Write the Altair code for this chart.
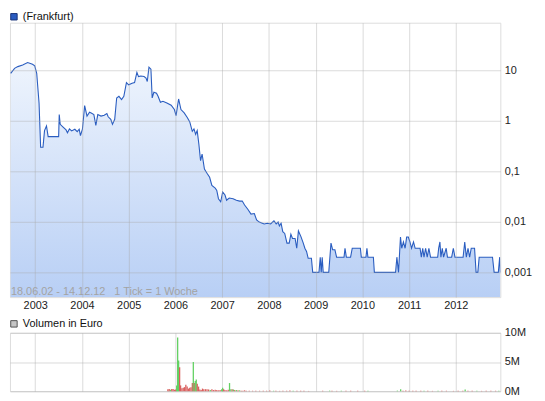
import altair as alt
import pandas as pd

# ---------------- data ----------------
price_year = [
    2002.475, 2002.558, 2002.628, 2002.732, 2002.837, 2002.942, 2002.99, 2003.032, 2003.082, 2003.116,
    2003.166, 2003.199, 2003.241, 2003.277, 2003.501, 2003.514, 2003.535, 2003.591, 2003.66, 2003.69,
    2003.732, 2003.779, 2003.848, 2003.899, 2003.941, 2003.968, 2004.01, 2004.058, 2004.108, 2004.163,
    2004.198, 2004.255, 2004.297, 2004.339, 2004.408, 2004.477, 2004.533, 2004.561, 2004.617, 2004.653,
    2004.701, 2004.743, 2004.791, 2004.848, 2004.896, 2004.952, 2005.0, 2005.072, 2005.126, 2005.176,
    2005.21, 2005.26, 2005.329, 2005.371, 2005.398, 2005.434, 2005.476, 2005.503, 2005.539, 2005.595,
    2005.629, 2005.679, 2005.733, 2005.817, 2005.909, 2005.978, 2006.014, 2006.068, 2006.119, 2006.188,
    2006.257, 2006.307, 2006.361, 2006.397, 2006.433, 2006.466, 2006.502, 2006.538, 2006.571, 2006.621,
    2006.676, 2006.732, 2006.78, 2006.852, 2006.885, 2006.921, 2006.969, 2007.011, 2007.061, 2007.095,
    2007.151, 2007.235, 2007.304, 2007.375, 2007.43, 2007.48, 2007.549, 2007.618, 2007.689, 2007.737,
    2007.794, 2007.899, 2007.968, 2008.037, 2008.108, 2008.156, 2008.198, 2008.225, 2008.261, 2008.297,
    2008.339, 2008.387, 2008.435, 2008.471, 2008.506, 2008.561, 2008.596, 2008.632, 2008.686, 2008.736,
    2008.77, 2008.806, 2008.841, 2008.91, 2008.938, 2009.072, 2009.099, 2009.12, 2009.141, 2009.162,
    2009.281, 2009.329, 2009.365, 2009.413, 2009.449, 2009.608, 2009.629, 2009.658, 2009.748, 2009.784,
    2009.958, 2009.978, 2010.077, 2010.098, 2010.119, 2010.236, 2010.257, 2010.711, 2010.739, 2010.774,
    2010.816, 2010.843, 2010.879, 2010.915, 2010.948, 2010.984, 2011.019, 2011.053, 2011.095, 2011.13,
    2011.235, 2011.262, 2011.292, 2011.319, 2011.354, 2011.388, 2011.424, 2011.459, 2011.612, 2011.633,
    2011.66, 2011.681, 2011.711, 2011.738, 2011.794, 2011.821, 2011.911, 2011.947, 2011.982, 2012.156,
    2012.191, 2012.225, 2012.261, 2012.296, 2012.33, 2012.401, 2012.434, 2012.471, 2012.5, 2012.785,
    2012.82, 2012.91, 2012.939, 2012.953,
]
price_value = [
    8.7, 10.9, 11.8, 12.7, 14.2, 13.1, 12.2, 8.7, 2.25, 0.30,
    0.30, 0.64, 0.79, 0.485, 0.485, 1.33, 0.85, 0.76, 0.66, 0.58,
    0.69, 0.63, 0.68, 0.61, 0.68, 0.51, 0.68, 2.0, 1.24, 1.48,
    1.43, 1.33, 0.81, 1.33, 1.24, 1.29, 1.39, 1.2, 1.07, 0.85,
    1.07, 2.83, 3.05, 2.62, 3.05, 5.7, 5.15, 5.55, 5.7, 9.1,
    7.5, 7.7, 7.5, 7.0, 6.0, 11.5, 10.5, 2.83, 3.66, 3.5,
    3.05, 2.33, 2.43, 2.25, 2.03, 1.67, 1.27, 2.7, 1.67, 1.43,
    1.15, 0.95, 0.62, 0.69, 0.54, 0.64, 0.344, 0.162, 0.22, 0.111,
    0.0915, 0.0762, 0.0524, 0.0465, 0.042, 0.0287, 0.025, 0.0391, 0.034, 0.0268,
    0.0296, 0.0287, 0.0268, 0.0257, 0.0259, 0.0215, 0.0178, 0.0142, 0.0146, 0.0109,
    0.0099, 0.0091, 0.0094, 0.0091, 0.0105, 0.0091, 0.0099, 0.0083, 0.0094, 0.0064,
    0.0059, 0.0038, 0.0038, 0.0057, 0.0047, 0.0047, 0.003, 0.0066, 0.0051, 0.0038,
    0.003, 0.0026, 0.0019, 0.0019, 0.001, 0.001, 0.002, 0.001, 0.002, 0.001,
    0.001, 0.0038, 0.0028, 0.0028, 0.002, 0.002, 0.003, 0.002, 0.002, 0.003,
    0.003, 0.002, 0.002, 0.003, 0.002, 0.002, 0.001, 0.001, 0.002, 0.001,
    0.005, 0.003, 0.004, 0.003, 0.005, 0.005, 0.004, 0.003, 0.004, 0.003,
    0.003, 0.002, 0.003, 0.002, 0.003, 0.002, 0.003, 0.002, 0.002, 0.003,
    0.004, 0.002, 0.003, 0.002, 0.003, 0.002, 0.002, 0.003, 0.002, 0.002,
    0.004, 0.002, 0.003, 0.002, 0.003, 0.003, 0.001, 0.001, 0.002, 0.002,
    0.001, 0.001, 0.002, 0.001,
]

vol_year = [
    2005.839, 2005.867, 2005.895, 2005.922, 2005.950, 2005.978, 2006.006, 2006.027, 2006.048, 2006.069,
    2006.090, 2006.111, 2006.139, 2006.167, 2006.195, 2006.223, 2006.251, 2006.278, 2006.306, 2006.334,
    2006.362, 2006.383, 2006.404, 2006.425, 2006.446, 2006.467, 2006.495, 2006.523, 2006.551, 2006.579,
    2006.607, 2006.642, 2006.676, 2006.711, 2006.746, 2006.781, 2006.816, 2006.851, 2006.886, 2006.921,
    2006.956, 2006.99, 2007.011, 2007.032, 2007.06, 2007.095, 2007.13, 2007.158, 2007.186, 2007.214,
    2007.242, 2007.27, 2007.305, 2007.34, 2007.374, 2007.409, 2007.444, 2007.479, 2007.514, 2007.58,
    2007.65, 2007.72, 2007.8, 2007.88, 2007.95, 2008.02, 2008.1, 2008.15, 2008.23, 2008.3,
    2008.38, 2008.45, 2008.52, 2008.6, 2008.68, 2008.75, 2008.85, 2009.15, 2009.3, 2009.35,
    2009.45, 2009.55, 2009.65, 2009.75, 2009.9, 2010.05, 2010.12, 2010.75, 2010.82, 2010.87,
    2010.93, 2011.0, 2011.08, 2011.15, 2011.25, 2011.32, 2011.4, 2011.5, 2011.62, 2011.7,
    2011.8, 2011.95, 2012.05, 2012.15, 2012.2, 2012.26, 2012.35, 2012.45, 2012.55, 2012.65,
    2012.75, 2012.85, 2012.92,
]
vol_mio = [
    0.34, 0.4, 0.25, 0.4, 0.4, 0.25, 0.3, 1.0, 9.2, 5.25,
    4.1, 1.0, 0.5, 0.6, 0.7, 1.1, 0.8, 0.45, 0.6, 0.7,
    1.4, 5.0, 1.4, 1.75, 2.0, 1.3, 0.8, 0.3, 0.2, 0.45,
    0.35, 0.35, 0.35, 0.3, 0.2, 0.35, 0.2, 0.25, 0.2, 0.15,
    0.2, 0.35, 0.6, 0.35, 0.2, 0.15, 0.25, 1.4, 0.35, 0.35,
    0.3, 0.2, 0.2, 0.15, 0.15, 0.1, 0.1, 0.15, 0.1, 0.1,
    0.08, 0.1, 0.08, 0.1, 0.08, 0.12, 0.08, 0.1, 0.06, 0.1,
    0.08, 0.12, 0.06, 0.1, 0.08, 0.06, 0.05, 0.08, 0.1, 0.08,
    0.06, 0.08, 0.06, 0.08, 0.06, 0.08, 0.06, 0.1, 0.35, 0.1,
    0.12, 0.1, 0.08, 0.1, 0.08, 0.06, 0.08, 0.06, 0.1, 0.06,
    0.08, 0.06, 0.08, 0.06, 0.3, 0.08, 0.1, 0.08, 0.06, 0.08,
    0.06, 0.08, 0.06,
]
vol_dir = [
    "ab", "ab", "auf", "ab", "ab", "ab", "ab", "auf", "auf", "auf",
    "ab", "ab", "ab", "ab", "ab", "ab", "ab", "ab", "ab", "ab",
    "ab", "auf", "ab", "auf", "auf", "ab", "ab", "ab", "ab", "ab",
    "ab", "ab", "ab", "ab", "auf", "ab", "ab", "ab", "ab", "ab",
    "ab", "auf", "auf", "ab", "ab", "ab", "ab", "auf", "auf", "ab",
    "auf", "ab", "auf", "ab", "auf", "ab", "ab", "ab", "ab", "ab",
    "ab", "ab", "ab", "ab", "ab", "ab", "auf", "ab", "ab", "ab",
    "ab", "ab", "auf", "ab", "ab", "ab", "ab", "ab", "auf", "ab",
    "ab", "auf", "ab", "ab", "ab", "ab", "auf", "auf", "auf", "ab",
    "ab", "ab", "ab", "ab", "ab", "auf", "ab", "ab", "auf", "ab",
    "ab", "ab", "ab", "ab", "auf", "ab", "ab", "auf", "ab", "ab",
    "ab", "ab", "auf",
]

year_ticks = [2003, 2004, 2005, 2006, 2007, 2008, 2009, 2010, 2011, 2012]
price_ticks = [0.001, 0.01, 0.1, 1, 10]
vol_ticks = [0, 5, 10]
legend_price = "(Frankfurt)"
legend_vol = "Volumen in Euro"
info_text = "18.06.02 - 14.12.12\u00a0\u00a0\u00a01 Tick = 1 Woche"

# ---------------- layout / style ----------------
W = 495
H_TOP = 277
H_VOL = 59
Y_MIN, Y_MAX = 0.000324, 87.3
FONT = "Liberation Sans"
GRID = "#a8a8a8"
GRID_OP = 0.42
LINE = "#2a5dc0"

price_df = pd.DataFrame({"jahr": price_year, "kurs": price_value})
vol_df = pd.DataFrame({"jahr": vol_year, "volumen": vol_mio, "richtung": vol_dir})

x_scale = alt.Scale(domain=[2002.46, 2012.953], nice=False, zero=False)

x_top = alt.X(
    "jahr:Q", scale=x_scale,
    axis=alt.Axis(values=year_ticks, format="d", title=None, grid=True, gridColor=GRID,
                  gridOpacity=GRID_OP, zindex=1,
                  ticks=False, domain=False, labelPadding=2, labelFont=FONT,
                  labelFontSize=11, labelColor="#222222", labelFlush=False),
)
y_top = alt.Y(
    "kurs:Q", scale=alt.Scale(type="log", domain=[Y_MIN, Y_MAX], nice=False),
    axis=alt.Axis(values=price_ticks, orient="right", title=None, grid=True, gridColor=GRID,
                  gridOpacity=GRID_OP, zindex=1,
                  ticks=False, domain=False, labelPadding=4, labelFont=FONT, labelFontSize=11,
                  labelColor="#222222", labelBaseline="middle",
                  labelExpr="replace(format(datum.value, '~g'), '.', ',')"),
)

base = alt.Chart(price_df).encode(x=x_top, y=y_top)
area = base.mark_area(
    clip=True,
    color=alt.Gradient(gradient="linear", x1=0, x2=0, y1=0, y2=1,
                       stops=[alt.GradientStop(color="#eef4fd", offset=0),
                              alt.GradientStop(color="#b8cff5", offset=1)]),
).encode(y2=alt.datum(Y_MIN))
line = base.mark_line(clip=True, color=LINE, strokeWidth=1.1)

info = alt.Chart(pd.DataFrame({"t": [info_text]})).mark_text(
    align="left", baseline="alphabetic", font=FONT, fontSize=11, color="#a3a3a3"
).encode(x=alt.value(1), y=alt.value(H_TOP - 2), text="t:N")

sq_top = alt.Chart(pd.DataFrame({"t": [legend_price]})).mark_square(
    size=42, filled=True, color="#2a5cc0", stroke="#1a3578", strokeWidth=1, opacity=1
).encode(x=alt.value(4), y=alt.value(-6))
txt_top = alt.Chart(pd.DataFrame({"t": [legend_price]})).mark_text(
    align="left", baseline="middle", font=FONT, fontSize=11, color="#111111"
).encode(x=alt.value(13), y=alt.value(-6), text="t:N")

top = alt.layer(area, line, info, sq_top, txt_top).properties(width=W, height=H_TOP)

x_bot = alt.X(
    "jahr:Q", scale=x_scale,
    axis=alt.Axis(values=year_ticks, title=None, grid=True, gridColor=GRID,
                  gridOpacity=GRID_OP, labels=False, ticks=False, domain=False),
)
bars = alt.Chart(vol_df).mark_rule(strokeWidth=1.3).encode(
    x=x_bot,
    y=alt.Y("volumen:Q", scale=alt.Scale(domain=[0, 10], nice=False),
            axis=alt.Axis(values=vol_ticks, orient="right", title=None, grid=True,
                          gridColor=GRID, gridOpacity=GRID_OP, ticks=False, domain=False,
                          labelPadding=4, labelFont=FONT, labelFontSize=11,
                          labelColor="#222222", labelBaseline="middle",
                          labelExpr="datum.value + 'M'")),
    y2=alt.datum(0),
    color=alt.Color("richtung:N", legend=None,
                    scale=alt.Scale(domain=["auf", "ab"], range=["#63d163", "#d9605e"])),
)
sq_bot = alt.Chart(pd.DataFrame({"t": [legend_vol]})).mark_square(
    size=42, filled=True, color="#c6c6c6", stroke="#555555", strokeWidth=1, opacity=1
).encode(x=alt.value(4), y=alt.value(-9))
txt_bot = alt.Chart(pd.DataFrame({"t": [legend_vol]})).mark_text(
    align="left", baseline="middle", font=FONT, fontSize=11, color="#111111"
).encode(x=alt.value(13), y=alt.value(-9), text="t:N")

bottom = alt.layer(bars, sq_bot, txt_bot).properties(width=W, height=H_VOL)

chart = alt.vconcat(top, bottom, spacing=36, bounds="flush").properties(
    padding={"left": 0, "top": 0, "right": 4, "bottom": 0}
).configure_view(stroke="#d6d6d6").configure(background="white")

chart.save("out.html", embed_options={"renderer": "svg", "actions": False})
